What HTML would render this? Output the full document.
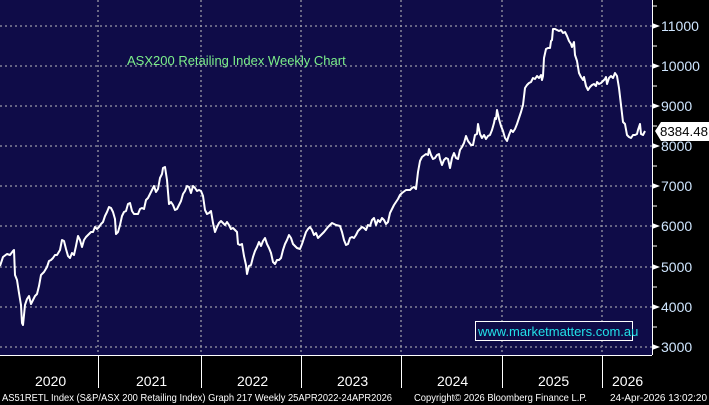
<!DOCTYPE html>
<html><head><style>
html,body{margin:0;padding:0;background:#000;}
svg{display:block;}
text{font-family:"Liberation Sans",sans-serif;}
</style></head><body>
<svg width="709" height="405" viewBox="0 0 709 405" xmlns="http://www.w3.org/2000/svg">
<rect x="0" y="0" width="709" height="405" fill="#000"/>
<rect x="0" y="0" width="652" height="355" fill="#0f0c48"/>
<g stroke="#9a9aa6" stroke-width="1.3" stroke-dasharray="2,3" fill="none">
<line x1="0" y1="26" x2="652" y2="26"/><line x1="0" y1="66" x2="652" y2="66"/>
<line x1="0" y1="106" x2="652" y2="106"/><line x1="0" y1="146" x2="652" y2="146"/>
<line x1="0" y1="186" x2="652" y2="186"/><line x1="0" y1="226" x2="652" y2="226"/>
<line x1="0" y1="267" x2="652" y2="267"/><line x1="0" y1="307" x2="652" y2="307"/>
<line x1="0" y1="347" x2="652" y2="347"/>
<line x1="98" y1="0" x2="98" y2="355"/><line x1="201" y1="0" x2="201" y2="355"/>
<line x1="301" y1="0" x2="301" y2="355"/><line x1="401" y1="0" x2="401" y2="355"/>
<line x1="502" y1="0" x2="502" y2="355"/><line x1="602" y1="0" x2="602" y2="355"/>
</g>
<line x1="652.5" y1="0" x2="652.5" y2="355" stroke="#fff" stroke-width="1"/>
<line x1="0" y1="355.5" x2="652" y2="355.5" stroke="#fff" stroke-width="1"/>
<g stroke="#fff" stroke-width="1">
<line x1="652" y1="6" x2="657" y2="6"/><line x1="652" y1="46" x2="657" y2="46"/>
<line x1="652" y1="86" x2="657" y2="86"/><line x1="652" y1="126" x2="657" y2="126"/>
<line x1="652" y1="166" x2="657" y2="166"/><line x1="652" y1="206" x2="657" y2="206"/>
<line x1="652" y1="246" x2="657" y2="246"/><line x1="652" y1="287" x2="657" y2="287"/>
<line x1="652" y1="327" x2="657" y2="327"/>
<line x1="98.5" y1="355" x2="98.5" y2="388"/><line x1="201.5" y1="355" x2="201.5" y2="388"/>
<line x1="301.5" y1="355" x2="301.5" y2="388"/><line x1="401.5" y1="355" x2="401.5" y2="388"/>
<line x1="502.5" y1="355" x2="502.5" y2="388"/><line x1="602.5" y1="355" x2="602.5" y2="388"/>
</g>
<g fill="#fff">
<polygon points="652,23 660,26 652,29"/><polygon points="652,63 660,66 652,69"/>
<polygon points="652,103 660,106 652,109"/><polygon points="652,143 660,146 652,149"/>
<polygon points="652,183 660,186 652,189"/><polygon points="652,223 660,226 652,229"/>
<polygon points="652,264 660,267 652,270"/><polygon points="652,304 660,307 652,310"/>
<polygon points="652,344 660,347 652,350"/>
</g>
<g fill="#cfe6ff" font-size="14">
<text x="661" y="31">11000</text><text x="661" y="71">10000</text>
<text x="661" y="111">9000</text><text x="661" y="151">8000</text>
<text x="661" y="191">7000</text><text x="661" y="231">6000</text>
<text x="661" y="272">5000</text><text x="661" y="312">4000</text>
<text x="661" y="352">3000</text>
</g>
<polygon points="655,131 661,122 709,122 709,141 661,141" fill="#fff"/>
<text x="660" y="136" font-size="13" fill="#000" textLength="48" lengthAdjust="spacingAndGlyphs">8384.48</text>
<text x="127" y="65" font-size="13" fill="#7cf08a">ASX200 Retailing Index Weekly Chart</text>
<rect x="475.5" y="321.5" width="157" height="19" fill="#0f0c48" stroke="#fff" stroke-width="1"/>
<text x="478" y="336" font-size="13" fill="#22e0e8">www.marketmatters.com.au</text>
<polyline fill="none" stroke="#fff" stroke-width="2" stroke-linejoin="round" points="0,266 3,257 7,254 10,255 13,251 14,250 15,275 17,280 19,293 21,305 22,323 23,325 25,305 27,299 29,296 31,304 33,300 35,296 37,294 39,286 41,275 44,272 47,267 49,261 51,260 53,258 55,255 57,255 60,250 62,240 64,241 66,249 68,256 70,258 72,253 74,255 76,246 78,236 80,240 82,247 84,240 86,237 89,234 91,232 93,232 95,227 97,229 99,227 101,224 103,222 105,216 107,212 109,207 111,208 113,212 115,219 116,234 118,232 120,225 122,216 124,212 126,211 128,204 130,203 132,211 134,214 136,214 138,214 140,209 142,208 144,209 146,200 148,198 150,194 152,190 154,186 156,192 158,189 160,178 162,174 163,168 165,167 167,180 169,204 171,202 173,205 175,210 177,209 179,205 181,201 183,194 185,191 187,186 189,187 191,193 193,186 195,188 197,191 199,190 201,191 203,196 205,210 207,214 209,213 211,211 213,223 215,232 217,227 219,223 221,221 223,223 225,225 227,222 229,225 231,229 233,228 235,230 237,232 238,244 240,245 242,244 244,256 246,265 247,274 249,266 251,265 253,257 255,251 257,247 259,242 261,246 263,241 265,238 267,244 269,248 271,253 273,262 275,264 277,260 279,260 281,258 283,250 285,244 287,240 289,235 291,238 293,244 297,248 300,249 302,244 304,238 306,232 308,229 310,227 312,230 314,235 316,233 318,238 320,236 322,234 324,232 328,227 332,223 336,225 340,226 342,232 344,240 346,245 348,244 350,238 352,237 354,238 356,235 358,231 362,227 364,228 366,230 368,225 370,226 372,220 374,218 376,225 378,220 380,222 382,218 384,220 386,224 388,222 390,213 394,205 398,199 400,195 402,193 406,190 410,190 412,188 414,187 416,189 418,172 420,161 422,157 426,154 428,155 429,149 431,155 433,159 435,158 437,155 439,154 440,159 442,165 444,160 446,158 448,159 450,168 452,158 454,153 456,158 458,159 460,150 462,147 464,143 466,136 468,141 471,145 473,145 475,135 477,134 478,124 480,134 482,138 484,135 486,139 488,136 490,135 492,130 494,123 495,118 496,119 497,110 499,119 501,126 503,131 505,138 507,141 509,135 511,130 513,132 515,129 517,124 519,118 521,112 523,105 525,88 527,85 529,83 531,82 533,78 535,79 537,76 539,78 541,75 542,80 543,76 544,58 546,49 548,48 550,48 551,41 552,40 553,29 555,29 557,30 559,31 561,30 563,33 565,32 567,36 569,41 571,44 572,47 574,42 575,55 577,61 579,73 581,77 583,80 584,77 586,86 588,90 590,87 592,85 594,84 596,86 597,82 599,84 601,83 603,81 605,79 606,77 607,84 609,78 611,76 613,78 615,73 617,76 619,88 621,105 623,122 625,124 627,135 629,137 631,138 633,135 635,135 637,134 638,130 640,124 641,134 643,135 645,131"/>
<g fill="#fff" font-size="14">
<text x="35" y="386">2020</text><text x="136" y="386">2021</text>
<text x="237" y="386">2022</text><text x="337" y="386">2023</text>
<text x="437" y="386">2024</text><text x="538" y="386">2025</text>
<text x="612" y="386">2026</text>
</g>
<g fill="#fff" font-size="10">
<text x="2" y="401" textLength="390" lengthAdjust="spacingAndGlyphs">AS51RETL Index (S&amp;P/ASX 200 Retailing Index) Graph 217 Weekly 25APR2022-24APR2026</text>
<text x="414" y="401" textLength="173" lengthAdjust="spacingAndGlyphs">Copyright© 2026 Bloomberg Finance L.P.</text>
<text x="610" y="401" textLength="97" lengthAdjust="spacingAndGlyphs">24-Apr-2026 13:02:20</text>
</g>
</svg>
</body></html>
